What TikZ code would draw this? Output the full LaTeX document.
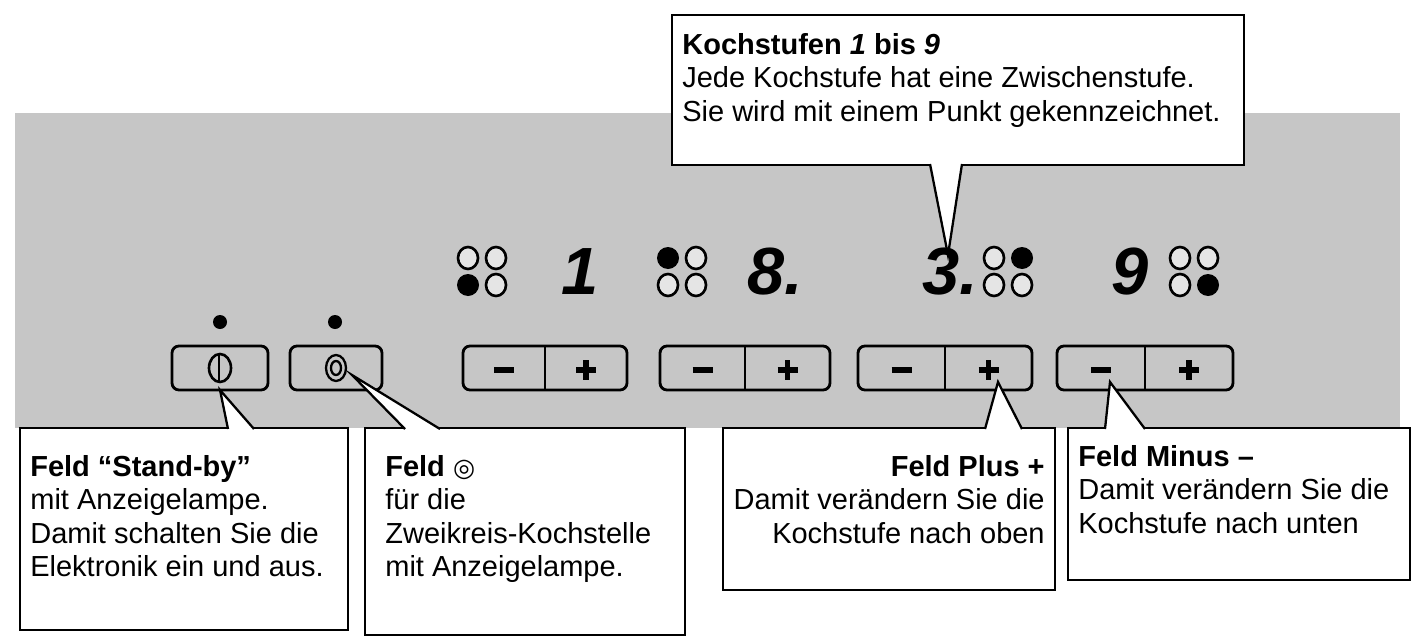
\documentclass[tikz,border=0pt]{standalone}
\usepackage{fontspec}
\setmainfont{Liberation Sans}
\newfontfamily\symfont{DejaVu Sans}
\begin{document}
\begin{tikzpicture}[x=0.02cm,y=-0.02cm,
  btn/.style={draw,line width=1.6pt,rounded corners=4pt},
  call/.style={draw,line width=1.3pt,fill=white},
  txt/.style={font=\fontsize{16.5}{19}\selectfont,inner sep=0pt},
  digit/.style={font=\fontsize{38}{38}\selectfont\bfseries\itshape,inner sep=0pt}]
\useasboundingbox (0,0) rectangle (1415,642);
\fill[white] (0,0) rectangle (1415,642);
\fill[gray!45] (15,113) rectangle (1400,428);
% top callout
\draw[call] (672,15) rectangle (1244,165);
\draw[call] (930,164) -- (948,255) -- (962,164);
\node[txt,anchor=north west,align=left] (kt) at (682,33) {\textbf{Kochstufen} \textbf{\textit{1}} \textbf{bis} \textbf{\textit{9}}\\Jede Kochstufe hat eine Zwischenstufe.\\Sie wird mit einem Punkt gekennzeichnet.};
% buttons
\draw[btn] (172,346) rectangle (268,390);
\draw[btn] (290,346) rectangle (382,390);
\coordinate (sb) at (220,368);
\coordinate (zk) at (336,368);
\draw[line width=1.5pt] (sb) ellipse (11 and 14);
\draw[line width=1.5pt] (219,354) -- (219,382);
\draw[line width=1.3pt] (zk) ellipse (10 and 13);
\draw[line width=1.3pt] (zk) ellipse (5 and 7);
\fill (220,322) circle (7);
\fill (335,322) circle (7);
\foreach \a/\b in {463/545,660/745,858/945,1057/1145}{
  \pgfmathsetmacro\e{\b+(\b-\a)}
  \pgfmathsetmacro\m{(\a+\b)/2}
  \pgfmathsetmacro\p{(\b+\e)/2}
  \draw[btn] (\a,346) rectangle (\e,390);
  \draw[line width=1.6pt] (\b,346) -- (\b,390);
  \draw[line width=3pt] ({\m-10},370) -- ({\m+10},370);
  \draw[line width=3pt] ({\p-10},370) -- ({\p+10},370);
  \draw[line width=3pt] (\p,360) -- (\p,380);
}
% LED groups
\foreach \x/\f in {468/3,668/1,994/2,1180/4}{
  \foreach \dx/\dy/\i in {0/0/1,28/0/2,0/27/3,28/27/4}{
    \ifnum\i=\f \fill (\x+\dx,258+\dy) circle (11);
    \else \draw[line width=1.5pt,fill=gray!20] (\x+\dx,258+\dy) ellipse (10 and 11); \fi
  }
}
\node[digit] (d1) at (580,272) {1};
\node[digit] (d2) at (775,272) {8.};
\node[digit] (d3) at (950,272) {3.};
\node[digit] (d4) at (1130,272) {9};
% bottom callouts
\draw[call] (20,428) rectangle (348,630);
\draw[call] (228,429) -- (220,390) -- (254,429);
\node[txt,anchor=north west,align=left] at (30,455) {\textbf{Feld “Stand-by”}\\mit Anzeigelampe.\\Damit schalten Sie die\\Elektronik ein und aus.};
\draw[call] (365,428) rectangle (685,635);
\draw[call] (405,429) -- (352,375) -- (440,429);
\node[txt,anchor=north west,align=left] at (385,455) {\textbf{Feld} {\symfont\Large ◎}\\für die\\Zweikreis-Kochstelle\\mit Anzeigelampe.};
\draw[call] (723,428) rectangle (1055,590);
\draw[call] (985,429) -- (998,382) -- (1022,429);
\node[txt,anchor=north east,align=right] at (1045,455) {\textbf{Feld Plus +}\\Damit verändern Sie die\\Kochstufe nach oben};
\draw[call] (1068,428) rectangle (1410,580);
\draw[call] (1105,429) -- (1110,382) -- (1145,429);
\node[txt,anchor=north west,align=left] at (1078,445) {\textbf{Feld Minus –}\\Damit verändern Sie die\\Kochstufe nach unten};
\end{tikzpicture}
\end{document}
